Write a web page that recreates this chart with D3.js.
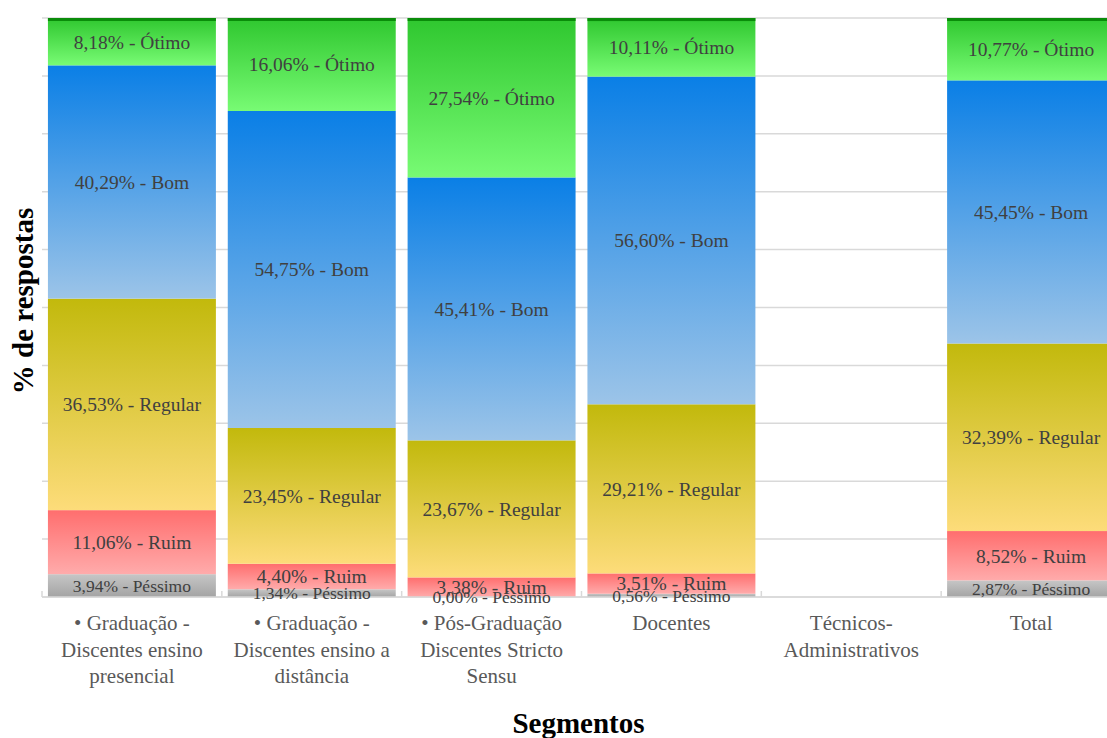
<!DOCTYPE html>
<html>
<head>
<meta charset="utf-8">
<script src="https://cdn.jsdelivr.net/npm/d3@7"></script>
<style>
  html, body { margin: 0; padding: 0; background: #fff; overflow: hidden; }
  svg { display: block; }
</style>
</head>
<body>
<svg id="chart" width="1107" height="738" font-family="'Liberation Serif', 'Times New Roman', serif"></svg>
<script>
// ---- Data ----
const categories = [
  "• Graduação - Discentes ensino presencial",
  "• Graduação - Discentes ensino a distância",
  "• Pós-Graduação Discentes Stricto Sensu",
  "Docentes",
  "Técnicos-Administrativos",
  "Total"
];
const categoryLines = [
  ["• Graduação -", "Discentes ensino", "presencial"],
  ["• Graduação -", "Discentes ensino a", "distância"],
  ["• Pós-Graduação", "Discentes Stricto", "Sensu"],
  ["Docentes"],
  ["Técnicos-", "Administrativos"],
  ["Total"]
];
const seriesNames = ["Péssimo", "Ruim", "Regular", "Bom", "Ótimo"];
const pessimo = [3.94, 1.34, 0.00, 0.56, null, 2.87];
const ruim    = [11.06, 4.40, 3.38, 3.51, null, 8.52];
const regular = [36.53, 23.45, 23.67, 29.21, null, 32.39];
const bom     = [40.29, 54.75, 45.41, 56.60, null, 45.45];
const otimo   = [8.18, 16.06, 27.54, 10.11, null, 10.77];
const yTicks = [0, 10, 20, 30, 40, 50, 60, 70, 80, 90, 100];

const seriesValues = [pessimo, ruim, regular, bom, otimo];
const gradients = {
  "Péssimo": ["#c6c6c6", "#a4a4a4"],
  "Ruim":    ["#ff6e6e", "#ffabab"],
  "Regular": ["#c2b90c", "#fddc7a"],
  "Bom":     ["#0a7fe6", "#9cc4e8"],
  "Ótimo":   ["#2fc72f", "#78fb74"]
};
const FONT = "'Liberation Serif', 'Times New Roman', serif";
const BASE = 16; // render text at a base size and scale it

// ---- Layout ----
const svg = d3.select("#chart");
const plot = { left: 42, right: 1121, top: 18, bottom: 597 };

const x = d3.scaleBand().domain(categories).range([plot.left, plot.right])
  .paddingInner(0.066).paddingOuter(0.033);
const y = d3.scaleLinear().domain([0, 100]).range([plot.bottom, plot.top]);

// gradients
const defs = svg.append("defs");
seriesNames.forEach((s, i) => {
  const g = defs.append("linearGradient").attr("id", "grad" + i)
    .attr("x1", 0).attr("y1", 0).attr("x2", 0).attr("y2", 1);
  g.append("stop").attr("offset", "0%").attr("stop-color", gradients[s][0]);
  g.append("stop").attr("offset", "100%").attr("stop-color", gradients[s][1]);
});

// gridlines
svg.append("g").selectAll("line").data(yTicks).join("line")
  .attr("x1", plot.left).attr("x2", 1107)
  .attr("y1", d => y(d)).attr("y2", d => y(d))
  .attr("stroke", "#d9d9d9").attr("stroke-width", 1.5);

// stacked data
const rows = categories.map((c, i) => {
  const r = { cat: c };
  seriesNames.forEach((s, j) => r[s] = seriesValues[j][i]);
  return r;
});
const stack = d3.stack().keys(seriesNames).value((d, k) => d[k] == null ? 0 : d[k]);
const stacked = stack(rows);

const layers = svg.append("g").selectAll("g").data(stacked).join("g")
  .attr("fill", (d, i) => `url(#grad${i})`);
layers.selectAll("rect").data(d => d.filter(p => p.data[d.key] != null && p.data[d.key] > 0)).join("rect")
  .attr("x", d => x(d.data.cat))
  .attr("width", x.bandwidth())
  .attr("y", d => y(d[1]))
  .attr("height", d => y(d[0]) - y(d[1]));

// dark green top stripe on top of each bar
const tops = rows.filter(r => r["Ótimo"] != null);
svg.append("g").selectAll("rect").data(tops).join("rect")
  .attr("x", d => x(d.cat)).attr("width", x.bandwidth())
  .attr("y", d => y(d3.sum(seriesNames, s => d[s]))).attr("height", 3)
  .attr("fill", "#0a8c0a");

// bottom axis line & ticks
svg.append("line").attr("x1", plot.left).attr("x2", 1107)
  .attr("y1", plot.bottom).attr("y2", plot.bottom)
  .attr("stroke", "#d9d9d9").attr("stroke-width", 1.5);
const boundaries = categories.map(c => x(c) - x.step() * x.paddingInner() / 2);
svg.append("g").selectAll("line").data(boundaries).join("line")
  .attr("x1", d => d).attr("x2", d => d)
  .attr("y1", plot.bottom - 6).attr("y2", plot.bottom)
  .attr("stroke", "#d9d9d9").attr("stroke-width", 1.5);

// helper: text at base size, scaled to target size
function scaledText(parent, tx, ty, size, extraTransform) {
  const k = size / BASE;
  return parent.append("text")
    .attr("transform", `translate(${tx},${ty})${extraTransform || ""} scale(${k})`)
    .attr("font-family", FONT)
    .style("font-family", FONT)
    .attr("font-size", BASE);
}

// value labels
const fmt = v => v.toFixed(2).replace(".", ",") + "%";
const labelG = svg.append("g");
stacked.forEach(layer => {
  layer.forEach(p => {
    const v = p.data[layer.key];
    if (v == null) return;
    const small = layer.key === "Péssimo";
    scaledText(labelG, x(p.data.cat) + x.bandwidth() / 2, (y(p[0]) + y(p[1])) / 2, small ? 17.5 : 19.5)
      .attr("dy", "0.35em")
      .attr("text-anchor", "middle")
      .attr("fill", "#404040")
      .text(fmt(v) + " - " + layer.key);
  });
});

// category labels
const catG = svg.append("g");
categories.forEach((c, i) => {
  const t = scaledText(catG, x(c) + x.bandwidth() / 2, 630, 21)
    .attr("text-anchor", "middle")
    .attr("fill", "#595959");
  categoryLines[i].forEach((line, k) => {
    t.append("tspan").attr("x", 0).attr("y", k * 26.5 * BASE / 21).text(line);
  });
});

// axis titles
scaledText(svg, (plot.left + 1107) / 2 + 4, 733, 29)
  .attr("text-anchor", "middle").attr("font-weight", "bold")
  .attr("fill", "#000").text("Segmentos");
scaledText(svg, 33, 301, 29, " rotate(-90)")
  .attr("text-anchor", "middle").attr("font-weight", "bold")
  .attr("fill", "#000").text("% de respostas");
</script>
</body>
</html>
